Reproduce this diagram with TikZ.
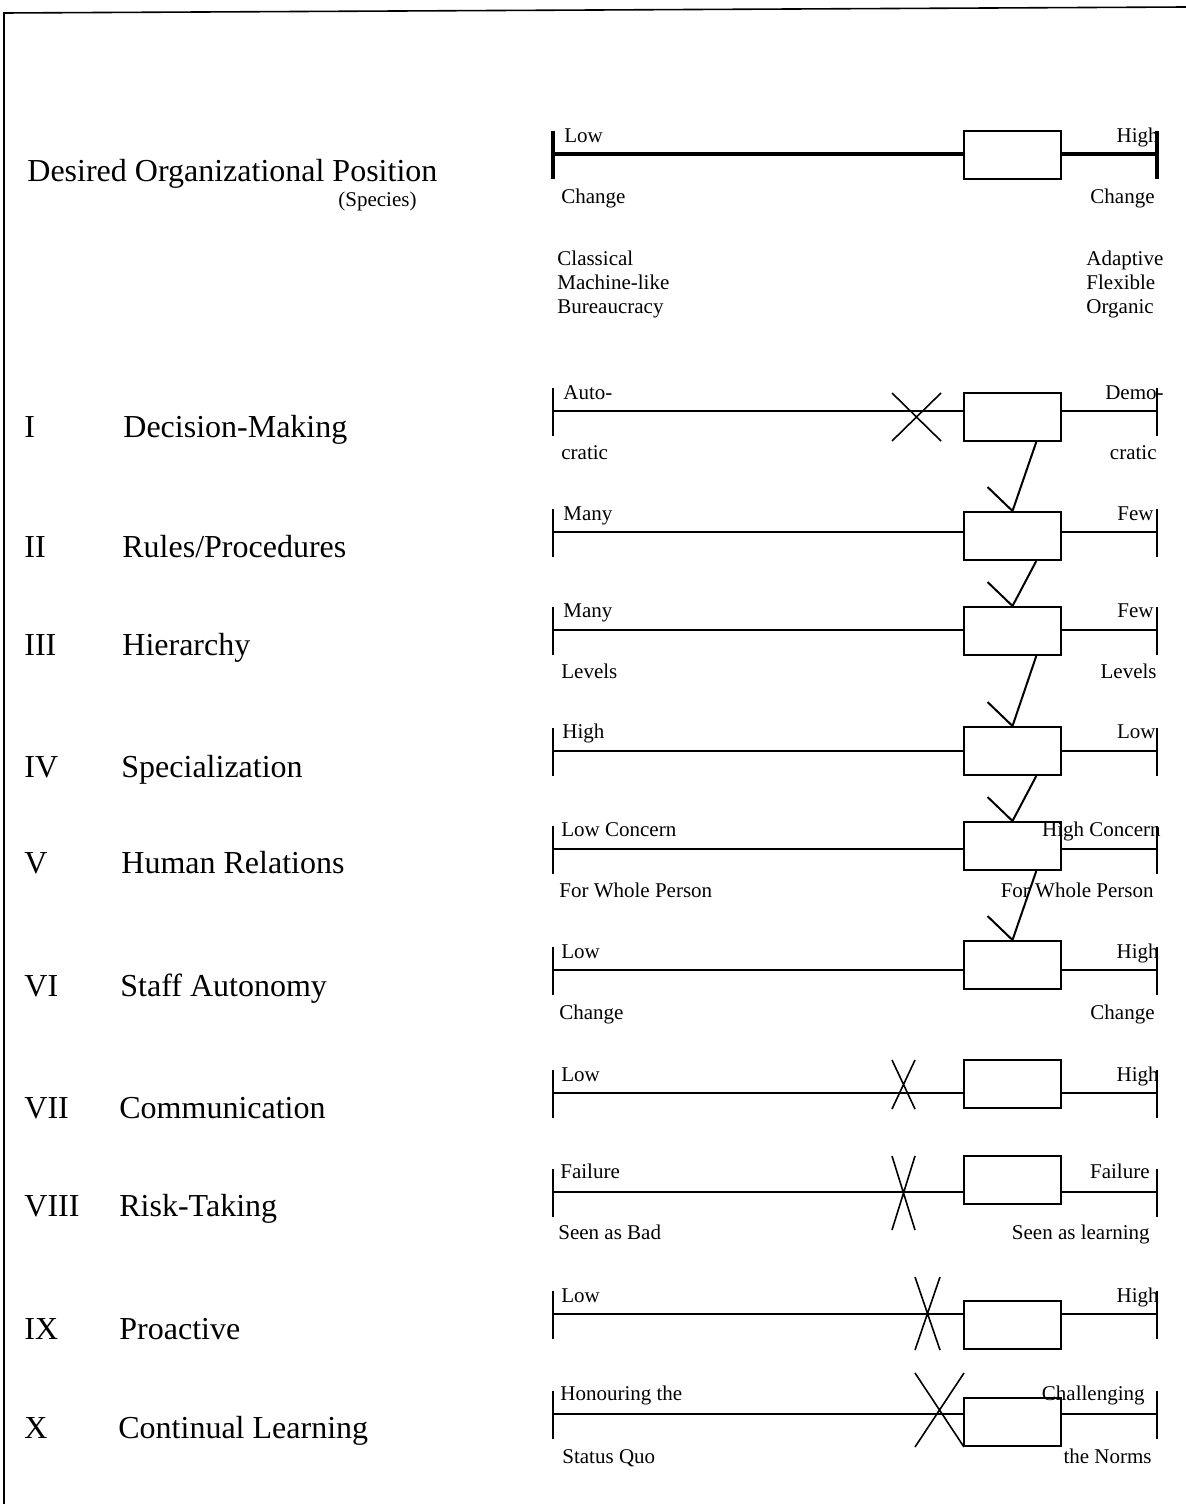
\documentclass[tikz,border=0pt]{standalone}
\usepackage{fontspec}
\setmainfont{Liberation Serif}
\usetikzlibrary{calc}
\tikzset{
  lab/.style={inner sep=0pt, font=\fontsize{10.5pt}{12pt}\selectfont},
  head/.style={inner sep=0pt, font=\fontsize{16pt}{18pt}\selectfont},
  sbox/.style={draw, line width=1pt, minimum width=48.5pt, minimum height=24pt, inner sep=0pt},
  thin/.style={line width=1pt},
  thick/.style={line width=2pt},
  conn/.style={line width=1pt},
  xmark/.style={line width=0.8pt},
}
\newcommand\skel[4]{%
  \coordinate (L#1) at (553,#2);
  \coordinate (R#1) at (1157,#2);
  \node[sbox] (B#1) at (1012.5,{#3+24}) {};
  \draw[#4] ($(L#1)+(0,-23)$) -- ($(L#1)+(0,25)$);
  \draw[#4] ($(R#1)+(0,-23)$) -- ($(R#1)+(0,25)$);
  \draw[#4] (L#1) -- (L#1 -| B#1.west);
  \draw[#4] (B#1.east |- R#1) -- (R#1);
}
\newcommand\linkboxes[2]{%
  \coordinate (S#1#2) at ($(B#1.south west)!0.74!(B#1.south east)$);
  \coordinate (E#1#2) at ($(B#2.north west)!0.5!(B#2.north east)$);
  \draw[conn] (S#1#2) -- (E#1#2) ++(-25,-24) -- (E#1#2);
}
\begin{document}
\begin{tikzpicture}[x=0.5pt,y=-0.5pt]
\useasboundingbox (0,0) rectangle (1186,1504);
% frame
\draw[line width=0.8pt] (4,1504) -- (4,13) -- (1186,7);

% headings
\node[head, anchor=base west] (h0) at (27,181) {Desired Organizational Position};
\node[lab, anchor=base west] (h0s) at (338,206) {(Species)};
\node[head, anchor=base west] (n1) at (24,437) {I};
\node[head, anchor=base west] (h1) at (123,437) {Decision-Making};
\node[head, anchor=base west] (n2) at (24,557) {II};
\node[head, anchor=base west] (h2) at (122,557) {Rules/Procedures};
\node[head, anchor=base west] (n3) at (24,655) {III};
\node[head, anchor=base west] (h3) at (122,655) {Hierarchy};
\node[head, anchor=base west] (n4) at (24,777) {IV};
\node[head, anchor=base west] (h4) at (121,777) {Specialization};
\node[head, anchor=base west] (n5) at (24,873) {V};
\node[head, anchor=base west] (h5) at (121,873) {Human Relations};
\node[head, anchor=base west] (n6) at (24,996) {VI};
\node[head, anchor=base west] (h6) at (120,996) {Staff Autonomy};
\node[head, anchor=base west] (n7) at (24,1118) {VII};
\node[head, anchor=base west] (h7) at (119,1118) {Communication};
\node[head, anchor=base west] (n8) at (24,1216) {VIII};
\node[head, anchor=base west] (h8) at (119,1216) {Risk-Taking};
\node[head, anchor=base west] (n9) at (24,1339) {IX};
\node[head, anchor=base west] (h9) at (119,1339) {Proactive};
\node[head, anchor=base west] (n10) at (24,1438) {X};
\node[head, anchor=base west] (h10) at (118,1438) {Continual Learning};

% scale labels
\node[lab, anchor=base west] (a0) at (564,142) {Low};
\node[lab, anchor=base east] (b0) at (1159,142) {High};
\node[lab, anchor=base west] (c0) at (561,203) {Change};
\node[lab, anchor=base east] (d0) at (1155,203) {Change};
\node[lab, anchor=base west] (e0) at (557,265) {Classical};
\node[lab, anchor=base west] (f0) at (557,289) {Machine-like};
\node[lab, anchor=base west] (g0) at (557,313) {Bureaucracy};
\node[lab, anchor=base west] (i0) at (1086,265) {Adaptive};
\node[lab, anchor=base west] (j0) at (1086,289) {Flexible};
\node[lab, anchor=base west] (k0) at (1086,313) {Organic};

\node[lab, anchor=base west] (a1) at (563,399) {Auto-};
\node[lab, anchor=base east] (b1) at (1164,399) {Demo-};
\node[lab, anchor=base west] (c1) at (561,459) {cratic};
\node[lab, anchor=base east] (d1) at (1157,459) {cratic};

\node[lab, anchor=base west] (a2) at (563,520) {Many};
\node[lab, anchor=base east] (b2) at (1154,520) {Few};

\node[lab, anchor=base west] (a3) at (563,617) {Many};
\node[lab, anchor=base east] (b3) at (1154,617) {Few};
\node[lab, anchor=base west] (c3) at (561,678) {Levels};
\node[lab, anchor=base east] (d3) at (1157,678) {Levels};

\node[lab, anchor=base west] (a4) at (562,738) {High};
\node[lab, anchor=base east] (b4) at (1156,738) {Low};

\node[lab, anchor=base west] (a5) at (561,836) {Low Concern};
\node[lab, anchor=base east] (b5) at (1161,836) {High Concern};
\node[lab, anchor=base west] (c5) at (559,897) {For Whole Person};
\node[lab, anchor=base east] (d5) at (1154,897) {For Whole Person};

\node[lab, anchor=base west] (a6) at (561,958) {Low};
\node[lab, anchor=base east] (b6) at (1159,958) {High};
\node[lab, anchor=base west] (c6) at (559,1019) {Change};
\node[lab, anchor=base east] (d6) at (1155,1019) {Change};

\node[lab, anchor=base west] (a7) at (561,1081) {Low};
\node[lab, anchor=base east] (b7) at (1159,1081) {High};

\node[lab, anchor=base west] (a8) at (560,1178) {Failure};
\node[lab, anchor=base east] (b8) at (1150,1178) {Failure};
\node[lab, anchor=base west] (c8) at (558,1239) {Seen as Bad};
\node[lab, anchor=base east] (d8) at (1150,1239) {Seen as learning};

\node[lab, anchor=base west] (a9) at (561,1302) {Low};
\node[lab, anchor=base east] (b9) at (1159,1302) {High};

\node[lab, anchor=base west] (a10) at (560,1400) {Honouring the};
\node[lab, anchor=base east] (b10) at (1145,1400) {Challenging};
\node[lab, anchor=base west] (c10) at (562,1463) {Status Quo};
\node[lab, anchor=base east] (d10) at (1152,1463) {the Norms};

% scales
\skel{0}{154}{131}{thick}
\skel{1}{411}{393}{thin}
\skel{2}{532}{512}{thin}
\skel{3}{630}{607}{thin}
\skel{4}{751}{727}{thin}
\skel{5}{849}{822}{thin}
\skel{6}{970}{941}{thin}
\skel{7}{1093}{1060}{thin}
\skel{8}{1192}{1156}{thin}
\skel{9}{1314}{1301}{thin}
\skel{10}{1414}{1398}{thin}

% connectors
\linkboxes{1}{2}
\linkboxes{2}{3}
\linkboxes{3}{4}
\linkboxes{4}{5}
\linkboxes{5}{6}

% crosses
\draw[xmark] (892,393) -- (941,441) (941,393) -- (892,441);
\draw[xmark] (892,1060) -- (915,1109) (915,1060) -- (892,1109);
\draw[xmark] (892,1156) -- (915,1230) (915,1156) -- (892,1230);
\draw[xmark] (915,1277) -- (940,1350) (940,1277) -- (915,1350);
\draw[xmark] (915,1373) -- (964,1447) (964,1373) -- (915,1447);
\end{tikzpicture}
\end{document}
